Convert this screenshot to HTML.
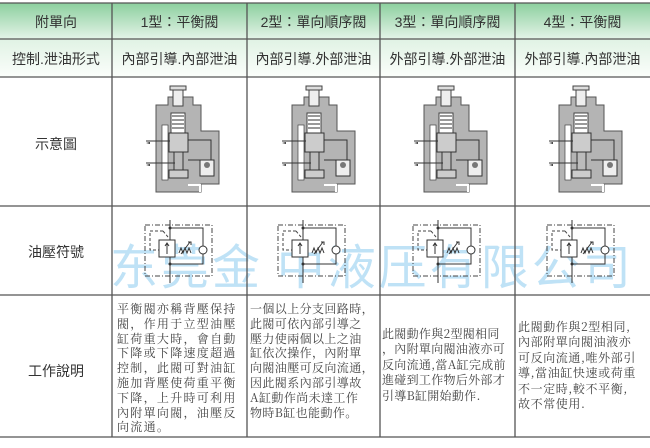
<!DOCTYPE html>
<html><head><meta charset="utf-8"><style>
body{margin:0;width:650px;height:448px;background:#fff;overflow:hidden;position:relative;font-family:"Liberation Sans","Noto Sans CJK TC",sans-serif;color:#333}
.hdr{position:absolute;left:0;top:3px;width:650px;height:36px;background:linear-gradient(#8ccf9e,#e4f4e8)}
.r2{position:absolute;left:0;top:39px;width:650px;height:38px;background:linear-gradient(#e0f2e4,#fbfefb)}
.t{position:absolute;text-align:center;font-size:14px;white-space:nowrap}
.d{position:absolute;font-size:12px;line-height:14.8px;color:#444;white-space:nowrap;letter-spacing:1.3px;font-family:"Noto Serif CJK SC","Liberation Serif",serif}
.wm{position:absolute;top:228px;font-size:48px;color:#bfe2f6;font-family:"Noto Sans CJK SC",sans-serif;white-space:nowrap;letter-spacing:3px;left:110px}
</style></head><body>
<div class="hdr"></div><div class="r2"></div>
<div class="wm">东莞金 中液压有限公司</div>
<svg width="650" height="448" style="position:absolute;left:0;top:0">
<defs>
<g id="v">
 <path d="M156,105 L168,105 L168,97 L193,97 L193,105 L201,105 L201,131 L219,131 L219,184 L201,184 L201,192 L156,192 Z" fill="#b4b4b4" stroke="#555" stroke-width="1"/>
 <rect x="173" y="88" width="10" height="18" fill="#eee" stroke="#444"/>
 <rect x="170" y="86" width="16" height="4" fill="#ddd" stroke="#444"/>
 <rect x="171" y="113" width="14" height="20" fill="#fff" stroke="#444"/>
 <path d="M172,116 h12 M172,120 h12 M172,124 h12 M172,128 h12" stroke="#333"/>
 <rect x="169" y="133" width="19" height="19" fill="#ccc" stroke="#333"/>
 <rect x="174" y="152" width="9" height="18" fill="#bbb" stroke="#333"/>
 <rect x="169" y="170" width="19" height="8" fill="#ccc" stroke="#333"/>
 <rect x="162" y="125" width="6" height="55" fill="#fff" stroke="#444" stroke-width=".7"/>
 <path d="M146,141 H170 M146,163 H175 M188,140 H211 V160 M188,160 H200" stroke="#333" fill="none"/>
 <path d="M150,144 l-4,-1 4,-1z M150,166 l-4,-1 4,-1z" fill="#333"/>
 <rect x="200" y="160" width="14" height="16" fill="#eee" stroke="#333"/>
 <circle cx="207" cy="165" r="3" fill="#777"/>
 <path d="M188,185 H200 V192" stroke="#fff" stroke-width="2" fill="none"/>
</g>
<g id="s">
 <rect x="145" y="225" width="67" height="51" fill="none" stroke="#444" stroke-dasharray="5,2,1,2"/>
 <path d="M170,220 V283" stroke="#333"/>
 <path d="M170,228 H203 V246 M203,254 V264 H170" stroke="#333" fill="none"/>
 <circle cx="203" cy="250" r="4" fill="#fff" stroke="#333"/>
 <circle cx="170" cy="228" r="1.5" fill="#333"/><circle cx="170" cy="264" r="1.5" fill="#333"/>
 <path d="M163,231 H150 V250 H159 M163,231 L168,237" stroke="#444" stroke-dasharray="3,2" fill="none"/>
 <rect x="159" y="240" width="16" height="17" fill="#fff" stroke="#333"/>
 <path d="M167,254 V243 M165,246 l2,-3 2,3" stroke="#333" fill="none"/>
 <path d="M179,253 l2,-5 2,5 2,-5 2,5 2,-5 2,5 M181,254 l9,-12 M188,242 h3 v3" stroke="#333" fill="none"/>
</g>
</defs>
<use href="#v"/><use href="#v" x="136"/><use href="#v" x="268"/><use href="#v" x="403"/>
<use href="#s"/><use href="#s" x="133"/><use href="#s" x="268"/><use href="#s" x="402"/>
<g stroke="#555" stroke-width="1.3">
<line x1="0" y1="3" x2="650" y2="3"/><line x1="0" y1="39" x2="650" y2="39"/><line x1="0" y1="77" x2="650" y2="77"/>
<line x1="0" y1="206" x2="650" y2="206"/><line x1="0" y1="295" x2="650" y2="295"/><line x1="0" y1="437" x2="650" y2="437"/>
<line x1="112" y1="3" x2="112" y2="437"/><line x1="247" y1="3" x2="247" y2="437"/><line x1="380" y1="3" x2="380" y2="437"/><line x1="515" y1="3" x2="515" y2="437"/>
</g>
</svg>
<div class="t" style="left:0;width:112px;top:12px">附單向</div>
<div class="t" style="left:112px;width:135px;top:12px">1型：平衡閥</div>
<div class="t" style="left:247px;width:133px;top:12px">2型：單向順序閥</div>
<div class="t" style="left:380px;width:135px;top:12px">3型：單向順序閥</div>
<div class="t" style="left:515px;width:135px;top:12px">4型：平衡閥</div>
<div class="t" style="left:0;width:112px;top:49px">控制.泄油形式</div>
<div class="t" style="left:112px;width:135px;top:49px">內部引導.內部泄油</div>
<div class="t" style="left:247px;width:133px;top:49px">內部引導.外部泄油</div>
<div class="t" style="left:380px;width:135px;top:49px">外部引導.外部泄油</div>
<div class="t" style="left:515px;width:135px;top:49px">外部引導.內部泄油</div>
<div class="t" style="left:0;width:112px;top:134px">示意圖</div>
<div class="t" style="left:0;width:112px;top:242px">油壓符號</div>
<div class="t" style="left:0;width:112px;top:361px">工作說明</div>
<div class="d" style="left:117px;top:302px">平衡閥亦稱背壓保持<br>閥，作用于立型油壓<br>缸荷重大時，會自動<br>下降或下降速度超過<br>控制，此閥可對油缸<br>施加背壓使荷重平衡<br>下降，上升時可利用<br>內附單向閥，油壓反<br>向流通。</div>
<div class="d" style="left:250px;top:302px;letter-spacing:0.4px">一個以上分支回路時，<br>此閥可依內部引導之<br>壓力使兩個以上之油<br>缸依次操作，內附單<br>向閥油壓可反向流通，<br>因此閥系內部引導故<br>A缸動作尚未達工作<br>物時B缸也能動作。</div>
<div class="d" style="left:382px;top:326px;line-height:15.4px;letter-spacing:0.3px">此閥動作與2型閥相同<br>，內附單向閥油液亦可<br>反向流通,當A缸完成前<br>進碰到工作物后外部才<br>引導B缸開始動作.</div>
<div class="d" style="left:518px;top:319px;line-height:15.4px;letter-spacing:0.6px">此閥動作與2型相同,<br>內部附單向閥油液亦<br>可反向流通,唯外部引<br>導,當油缸快速或荷重<br>不一定時,較不平衡,<br>故不常使用.</div>
</body></html>
